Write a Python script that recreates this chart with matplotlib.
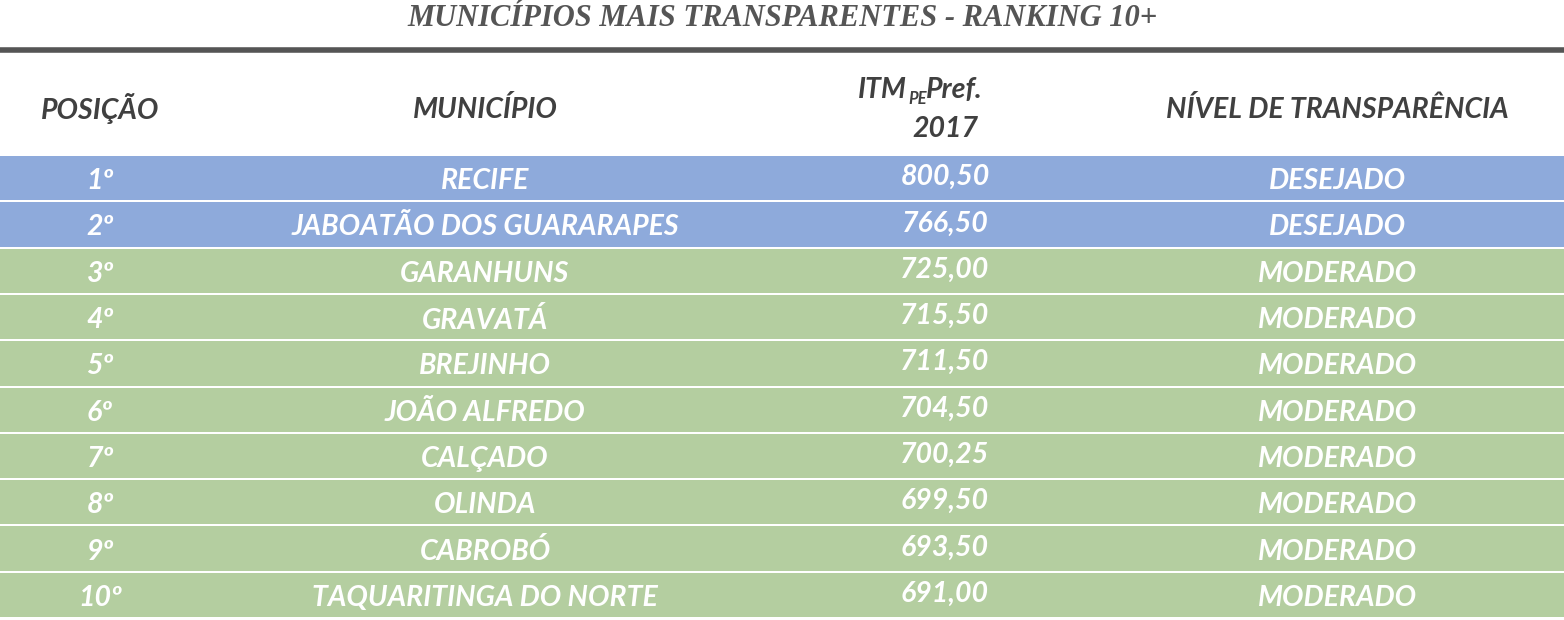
import matplotlib.pyplot as plt
from matplotlib.patches import Rectangle

W, H = 1564, 620

title = "MUNICÍPIOS MAIS TRANSPARENTES - RANKING 10+"
positions = ["1º", "2º", "3º", "4º", "5º", "6º", "7º", "8º", "9º", "10º"]
municipios = ["RECIFE", "JABOATÃO DOS GUARARAPES", "GARANHUNS", "GRAVATÁ",
              "BREJINHO", "JOÃO ALFREDO", "CALÇADO", "OLINDA", "CABROBÓ",
              "TAQUARITINGA DO NORTE"]
itm = [800.50, 766.50, 725.00, 715.50, 711.50, 704.50, 700.25, 699.50, 693.50, 691.00]
niveis = ["DESEJADO", "DESEJADO", "MODERADO", "MODERADO", "MODERADO", "MODERADO",
          "MODERADO", "MODERADO", "MODERADO", "MODERADO"]

level_colors = {"DESEJADO": "#8eaadb", "MODERADO": "#b4cea0"}
head_col = "#404040"
col_x = [100, 485, 945, 1337]
font = "Lato"

fig = plt.figure(figsize=(W / 100, H / 100), dpi=100)
ax = fig.add_axes([0, 0, 1, 1])
ax.set_xlim(0, W)
ax.set_ylim(H, 0)
ax.axis("off")

ax.text(W / 2, 19, title, ha="center", va="center", fontsize=22,
        family="Liberation Serif", weight="bold", style="italic", color="#555555")
ax.plot([0, W], [50, 50], color="#555555", lw=4, solid_capstyle="butt")

hkw = dict(va="center", fontsize=20.5, family=font, weight="bold", style="italic", color=head_col)
ax.text(col_x[0], 109, "POSIÇÃO", ha="center", **hkw)
ax.text(col_x[1], 109, "MUNICÍPIO", ha="center", **hkw)
ax.text(907, 90, "ITM", ha="right", **hkw)
ax.text(908, 99, "PE", ha="left", va="center", fontsize=12, family=font,
        weight="bold", style="italic", color=head_col)
ax.text(926, 90, "Pref.", ha="left", **hkw)
ax.text(col_x[2], 129, "2017", ha="center", **hkw)
ax.text(col_x[3], 109, "NÍVEL DE TRANSPARÊNCIA", ha="center", **hkw)

top, rh, gap = 156, 46.3, 2
rkw = dict(ha="center", va="center", fontsize=20.5, family=font, weight="bold",
           style="italic", color="white")
for i, (p, m, v, n) in enumerate(zip(positions, municipios, itm, niveis)):
    y0 = top + i * rh
    ax.add_patch(Rectangle((0, y0), W, rh - gap, color=level_colors[n], lw=0))
    yc = y0 + (rh - gap) / 2 + 3
    ax.text(col_x[0], yc, p, **rkw)
    ax.text(col_x[1], yc, m, **rkw)
    ax.text(col_x[2], yc - 4, f"{v:.2f}".replace(".", ","), **rkw)
    ax.text(col_x[3], yc, n, **rkw)

fig.savefig("out.png", dpi=100)
